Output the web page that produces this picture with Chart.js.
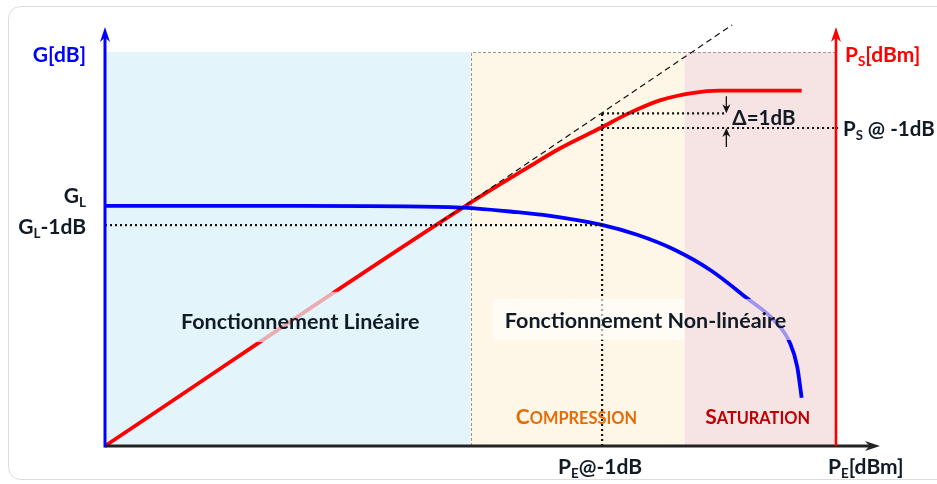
<!DOCTYPE html>
<html>
<head>
<meta charset="utf-8">
<script src="https://cdn.jsdelivr.net/npm/chart.js@4/dist/chart.umd.min.js"></script>
<style>
  html, body { margin: 0; padding: 0; background: #fff; }
  canvas { display: block; }
</style>
</head>
<body>
<canvas id="chart" width="937" height="484"></canvas>
<script>
// Schéma : point de compression à 1 dB d'un amplificateur
// axe x : P_E (0..100), axe y : G / P_S (0..100), unités arbitraires

// courbe de sortie P_S (rouge)
const psX = [0, 49.5, 57.7, 62.2, 67.9, 71.4, 75.9, 80.5, 84.1, 89.6, 95.3];
const psY = [0, 57.5, 66.3, 71.0, 76.0, 79.2, 82.5, 84.3, 84.8, 84.8, 84.8];

// courbe de gain G (bleue)
const gainX = [0, 26.7, 47.2, 56.4, 60.9, 68.1, 72.8, 77.7, 82.8, 87.8, 91.4, 93.7, 94.7, 95.3];
const gainY = [57.3, 57.3, 57.0, 55.8, 54.9, 52.7, 50.4, 47.0, 42.0, 35.3, 30.2, 24.6, 18.9, 11.5];

// prolongement linéaire (tirets)
const linX = [46, 85.8];
const linY = [53.6, 100.5];

// repères : G_L, G_L-1dB, P_E@-1dB, P_S@-1dB
const gL = 57.3;
const gL1 = 52.7;
const pe1 = 68.0;
const ps1 = 75.9;
const psLin = 79.4;   // valeur linéaire à P_E@-1dB
const deltaX = 85.0;  // position des flèches Δ

// zones : linéaire / compression / saturation
const zoneStart = [0, 50, 79.3];
const zoneEnd = [50, 79.3, 100];
const zoneTop = 94;

const FONT = "Lato, 'Open Sans', sans-serif";

function seg(xs, ys) {
  return xs.map((x, i) => ({ x: x, y: ys[i] }));
}

const dotted = { borderColor: "#111", borderWidth: 2.2, borderDash: [2, 3], pointRadius: 0, fill: false, tension: 0 };

// texte avec indices (ex: G_L)
function drawParts(ctx, parts, x, y, size, color, align) {
  const sub = size * 0.64;
  let w = 0;
  parts.forEach(p => {
    ctx.font = "bold " + (p[1] ? sub : size) + "px " + FONT;
    w += ctx.measureText(p[0]).width;
  });
  let cx = align === "right" ? x - w : align === "center" ? x - w / 2 : x;
  ctx.fillStyle = color;
  ctx.textAlign = "left";
  ctx.textBaseline = "middle";
  parts.forEach(p => {
    ctx.font = "bold " + (p[1] ? sub : size) + "px " + FONT;
    ctx.fillText(p[0], cx, p[1] ? y + size * 0.32 : y);
    cx += ctx.measureText(p[0]).width;
  });
}

// petites capitales (COMPRESSION, SATURATION)
function smallCaps(ctx, text, x, y, size, color) {
  ctx.fillStyle = color;
  ctx.textAlign = "left";
  ctx.textBaseline = "alphabetic";
  ctx.font = "bold " + size + "px " + FONT;
  ctx.fillText(text[0], x, y);
  let cx = x + ctx.measureText(text[0]).width;
  ctx.font = "bold " + (size * 0.78) + "px " + FONT;
  ctx.fillText(text.slice(1), cx, y);
}

function arrowHead(ctx, x, y, dir, len, half, color) {
  // dir : "up", "right", "down"
  ctx.fillStyle = color;
  ctx.beginPath();
  if (dir === "up") {
    ctx.moveTo(x, y);
    ctx.lineTo(x - half, y + len);
    ctx.lineTo(x, y + len * 0.7);
    ctx.lineTo(x + half, y + len);
  } else if (dir === "down") {
    ctx.moveTo(x, y);
    ctx.lineTo(x - half, y - len);
    ctx.lineTo(x, y - len * 0.7);
    ctx.lineTo(x + half, y - len);
  } else {
    ctx.moveTo(x, y);
    ctx.lineTo(x - len, y - half);
    ctx.lineTo(x - len * 0.7, y);
    ctx.lineTo(x - len, y + half);
  }
  ctx.closePath();
  ctx.fill();
}

const decorPlugin = {
  id: "decor",
  beforeDatasetsDraw(chart) {
    const ctx = chart.ctx;
    const xs = chart.scales.x, ys = chart.scales.y;
    const colors = ["#e3f4fb", "#fef6e6", "#f6e3e4"];
    ctx.save();
    // cadre extérieur
    ctx.strokeStyle = "#dcdcdc";
    ctx.lineWidth = 1;
    ctx.beginPath();
    ctx.roundRect(8.5, 6.5, 960, 473, 12);
    ctx.stroke();
    zoneStart.forEach((s, i) => {
      const x0 = xs.getPixelForValue(s), x1 = xs.getPixelForValue(zoneEnd[i]);
      const y0 = ys.getPixelForValue(zoneTop), y1 = ys.getPixelForValue(0);
      ctx.fillStyle = colors[i];
      ctx.fillRect(x0, y0, x1 - x0, y1 - y0);
    });
    // contour pointillé de la zone non linéaire
    const xa = xs.getPixelForValue(zoneStart[1]), xb = xs.getPixelForValue(zoneEnd[2]);
    const yt = ys.getPixelForValue(zoneTop), yb = ys.getPixelForValue(0);
    ctx.strokeStyle = "#9a9a9a";
    ctx.setLineDash([3, 2]);
    ctx.beginPath();
    ctx.moveTo(Math.round(xa) + 0.5, yb);
    ctx.lineTo(Math.round(xa) + 0.5, Math.round(yt) + 0.5);
    ctx.lineTo(xb, Math.round(yt) + 0.5);
    ctx.stroke();
    ctx.restore();
  },
  afterDatasetsDraw(chart) {
    const ctx = chart.ctx;
    const xs = chart.scales.x, ys = chart.scales.y;
    const px = v => xs.getPixelForValue(v), py = v => ys.getPixelForValue(v);
    ctx.save();

    // fonds semi-transparents des libellés
    ctx.fillStyle = "rgba(227,244,251,0.7)";
    ctx.fillRect(px(9.6), py(36.8), px(43.8) - px(9.6), py(24.8) - py(36.8));
    ctx.fillStyle = "rgba(255,255,255,0.65)";
    ctx.fillRect(px(53.1), py(35.1), px(79.3) - px(53.1), py(25.3) - py(35.1));
    ctx.fillStyle = "rgba(246,227,228,0.65)";
    ctx.fillRect(px(79.3), py(35.1), px(95.2) - px(79.3), py(25.3) - py(35.1));

    // axes
    const x0 = px(0), y0 = py(0), yTop = py(100), xR = px(100);
    ctx.lineWidth = 3;
    ctx.strokeStyle = "#222";
    ctx.beginPath();
    ctx.moveTo(x0, y0);
    ctx.lineTo(x0 + (xR - x0) + 36, y0);
    ctx.stroke();
    arrowHead(ctx, xR + 44, y0, "right", 15, 5, "#222");

    ctx.strokeStyle = "#0000ff";
    ctx.beginPath();
    ctx.moveTo(x0, y0 + 1.5);
    ctx.lineTo(x0, yTop + 8);
    ctx.stroke();
    arrowHead(ctx, x0, yTop, "up", 15, 5, "#0000ff");

    ctx.strokeStyle = "#ff0000";
    ctx.lineWidth = 2.6;
    ctx.beginPath();
    ctx.moveTo(xR, y0);
    ctx.lineTo(xR, yTop + 8);
    ctx.stroke();
    arrowHead(ctx, xR, yTop, "up", 15, 5, "#ff0000");

    // flèches Δ=1dB
    ctx.strokeStyle = "#111";
    ctx.lineWidth = 1.3;
    ctx.beginPath();
    ctx.moveTo(px(deltaX), py(psLin) - 17);
    ctx.lineTo(px(deltaX), py(psLin) - 4);
    ctx.moveTo(px(deltaX), py(ps1) + 19);
    ctx.lineTo(px(deltaX), py(ps1) + 4);
    ctx.stroke();
    arrowHead(ctx, px(deltaX), py(psLin), "down", 9, 4, "#111");
    arrowHead(ctx, px(deltaX), py(ps1), "up", 9, 4, "#111");

    // libellés
    const dark = "#111b25";
    drawParts(ctx, [["G[dB]"]], x0 - 19, 55, 21, "#0000ff", "right");
    drawParts(ctx, [["P"], ["S", true], ["[dBm]"]], xR + 9, 55, 21, "#ff0000", "left");
    drawParts(ctx, [["G"], ["L", true]], x0 - 19, py(gL) - 10, 21, dark, "right");
    drawParts(ctx, [["G"], ["L", true], ["-1dB"]], x0 - 19, py(gL1) + 2, 21, dark, "right");
    drawParts(ctx, [["P"], ["E", true], ["@-1dB"]], px(pe1) - 2, y0 + 21, 21, dark, "center");
    drawParts(ctx, [["P"], ["E", true], ["[dBm]"]], xR - 8, y0 + 21, 21, dark, "left");
    drawParts(ctx, [["P"], ["S", true], [" @ -1dB"]], xR + 7, py(ps1) + 1, 20.5, dark, "left");
    drawParts(ctx, [["Δ=1dB"]], px(deltaX) + 6, py(psLin) + 5, 20.5, dark, "left");
    drawParts(ctx, [["Fonctionnement Linéaire"]], px(26.7), py(29.6), 21.5, dark, "center");
    drawParts(ctx, [["Fonctionnement Non-linéaire"]], px(54.7), py(29.8), 21.5, dark, "left");
    smallCaps(ctx, "COMPRESSION", px(56.2), y0 - 22, 21, "#e46c0a");
    smallCaps(ctx, "SATURATION", px(82.1), y0 - 22, 21, "#c00000");
    ctx.restore();
  }
};

new Chart(document.getElementById("chart"), {
  type: "line",
  data: {
    datasets: [
      { label: "G_L-1dB", data: seg([0, pe1], [gL1, gL1]), ...dotted },
      { label: "P_E@-1dB", data: seg([pe1, pe1], [0, psLin]), ...dotted },
      { label: "lin@-1dB", data: seg([pe1, deltaX], [psLin, psLin]), ...dotted },
      { label: "P_S@-1dB", data: seg([pe1, 100.3], [ps1, ps1]), ...dotted },
      { label: "linéaire", data: seg(linX, linY), borderColor: "#111", borderWidth: 1.2, borderDash: [6, 4], pointRadius: 0, fill: false },
      { label: "G", data: seg(gainX, gainY), borderColor: "#0000ff", borderWidth: 3.8, pointRadius: 0, fill: false, cubicInterpolationMode: "monotone" },
      { label: "P_S", data: seg(psX, psY), borderColor: "#ff0000", borderWidth: 3.8, pointRadius: 0, fill: false, cubicInterpolationMode: "monotone" }
    ]
  },
  options: {
    responsive: false,
    devicePixelRatio: 1,
    animation: false,
    clip: false,
    layout: { padding: { left: 105, right: 101, top: 27, bottom: 38 } },
    plugins: { legend: { display: false }, tooltip: { enabled: false } },
    scales: {
      x: { type: "linear", min: 0, max: 100, display: false },
      y: { type: "linear", min: 0, max: 100, display: false }
    }
  },
  plugins: [decorPlugin]
});
</script>
</body>
</html>
